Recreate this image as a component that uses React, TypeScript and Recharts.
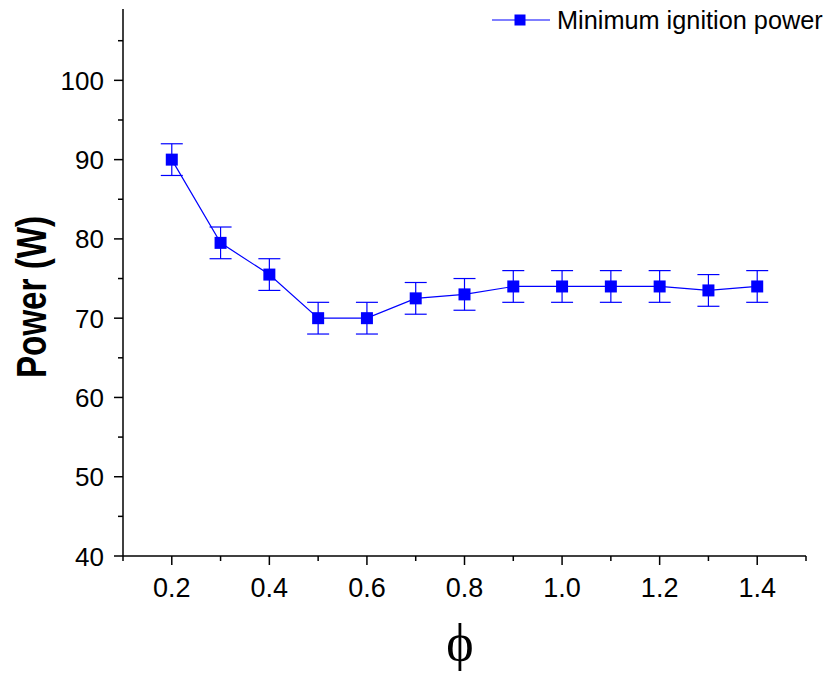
import React from 'react';
import { LineChart, Line, XAxis, YAxis, ErrorBar } from 'recharts';

// Equivalence ratio vs minimum ignition power, with ± error
const phiValues = [0.2, 0.3, 0.4, 0.5, 0.6, 0.7, 0.8, 0.9, 1.0, 1.1, 1.2, 1.3, 1.4];
const powerValues = [90, 79.5, 75.5, 70, 70, 72.5, 73, 74, 74, 74, 74, 73.5, 74];
const powerErrors = [2, 2, 2, 2, 2, 2, 2, 2, 2, 2, 2, 2, 2];

const xTicks = [0.1, 0.2, 0.3, 0.4, 0.5, 0.6, 0.7, 0.8, 0.9, 1.0, 1.1, 1.2, 1.3, 1.4, 1.5];
const yTicks = [40, 45, 50, 55, 60, 65, 70, 75, 80, 85, 90, 95, 100, 105];

const seriesName = 'Minimum ignition power';

const data = phiValues.map((phi, i) => ({
  phi,
  power: powerValues[i],
  err: powerErrors[i],
}));

const BLUE = '#0000ff';
const FONT = '"Liberation Sans", Arial, sans-serif';

const XTick = (props: any) => {
  const { x, y, payload } = props;
  const major = Math.round(payload.value * 10) % 2 === 0;
  return (
    <g>
      <line x1={x} x2={x} y1={y} y2={y + (major ? 9 : 5)} stroke="#000" strokeWidth={1.5} />
      {major && (
        <text x={x} y={y + 41} textAnchor="middle" fontSize={27} fontFamily={FONT} fill="#000">
          {payload.value.toFixed(1)}
        </text>
      )}
    </g>
  );
};

const YTick = (props: any) => {
  const { x, y, payload } = props;
  const major = payload.value % 10 === 0;
  return (
    <g>
      <line x1={x - (major ? 9 : 5)} x2={x} y1={y} y2={y} stroke="#000" strokeWidth={1.5} />
      {major && (
        <text x={x - 19} y={y + 9.5} textAnchor="end" fontSize={26} fontFamily={FONT} fill="#000">
          {payload.value}
        </text>
      )}
    </g>
  );
};

const SquareDot = (props: any) => {
  const { cx, cy, index } = props;
  return <rect key={`dot-${index}`} x={cx - 6} y={cy - 6} width={12} height={12} fill={BLUE} />;
};

export default function App() {
  return (
    <div style={{ position: 'absolute', left: 0, top: 0, width: 829, height: 673, background: '#fff' }}>
      <LineChart
        width={829}
        height={673}
        data={data}
        margin={{ top: 9, right: 23, left: 0, bottom: 57 }}
      >
        <XAxis
          type="number"
          dataKey="phi"
          domain={[0.1, 1.5]}
          ticks={xTicks}
          interval={0}
          allowDataOverflow
          height={60}
          tickSize={0}
          tickMargin={0}
          tickLine={false}
          axisLine={{ stroke: '#000', strokeWidth: 1.5 }}
          tick={<XTick />}
        />
        <YAxis
          type="number"
          domain={[40, 109]}
          ticks={yTicks}
          interval={0}
          allowDataOverflow
          width={123}
          tickSize={0}
          tickMargin={0}
          tickLine={false}
          axisLine={{ stroke: '#000', strokeWidth: 1.5 }}
          tick={<YTick />}
        />
        <Line
          dataKey="power"
          name={seriesName}
          stroke={BLUE}
          strokeWidth={1.2}
          dot={<SquareDot />}
          activeDot={false}
          isAnimationActive={false}
        >
          <ErrorBar
            dataKey="err"
            direction="y"
            width={11}
            stroke={BLUE}
            strokeWidth={1.2}
            isAnimationActive={false}
          />
        </Line>
      </LineChart>
      <svg
        width={829}
        height={673}
        style={{ position: 'absolute', left: 0, top: 0, pointerEvents: 'none' }}
      >
        {/* legend */}
        <line x1={492} x2={550} y1={20} y2={20} stroke={BLUE} strokeWidth={1.2} />
        <rect x={514.5} y={14.5} width={11} height={11} fill={BLUE} />
        <text x={557} y={29} fontSize={25.3} fontFamily={FONT} fill="#000">
          {seriesName}
        </text>
        {/* axis titles; the y title uses a narrowed bold face */}
        <text
          transform="translate(46, 297) rotate(-90) scale(0.79, 1)"
          textAnchor="middle"
          fontSize={42}
          fontWeight="bold"
          fontFamily={FONT}
          fill="#000"
        >
          Power (W)
        </text>
        <text
          x={460}
          y={660}
          textAnchor="middle"
          fontSize={52}
          fontFamily='"Liberation Serif", "DejaVu Serif", serif'
          fill="#000"
        >
          ϕ
        </text>
      </svg>
    </div>
  );
}
